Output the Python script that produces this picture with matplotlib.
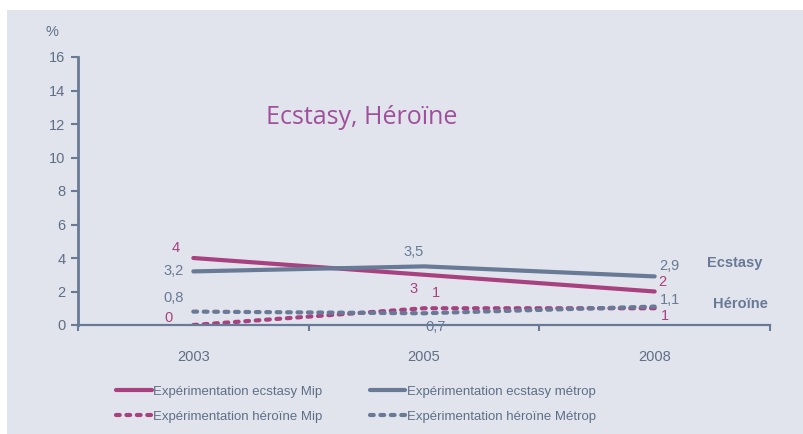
import matplotlib
matplotlib.use('Agg')
import matplotlib.pyplot as plt
from matplotlib.patches import Rectangle

years = ['2003', '2005', '2008']
ecstasy_mip = [4, 3, 2]
ecstasy_metrop = [3.2, 3.5, 2.9]
heroine_mip = [0, 1, 1]
heroine_metrop = [0.8, 0.7, 1.1]

# text shown next to each point, and where it goes (pixels from the point)
labels_ecs_mip = ['4', '3', '2']
labels_ecs_met = ['3,2', '3,5', '2,9']
labels_her_mip = ['0', '1', '1']
labels_her_met = ['0,8', '0,7', '1,1']
off_ecs_mip = [(-18, 10), (-10, -14), (8, 9)]
off_ecs_met = [(-20, 0), (-10, 14), (15, 10)]
off_her_mip = [(-25, 7), (12, 15), (10, -8)]
off_her_met = [(-20, 14), (12, -14), (15, 7)]

pink = '#a8417f'
grey = '#687a95'
txt = '#5f6f87'
bg = '#e1e4ec'

plt.rcParams['font.family'] = ['Liberation Sans', 'DejaVu Sans']

fig = plt.figure(figsize=(8.04, 4.34), dpi=100, facecolor='white')
fig.patches.append(Rectangle((7 / 804, 0), 1, 424 / 434, transform=fig.transFigure,
                             facecolor=bg, edgecolor='none', zorder=-10))
ax = fig.add_axes([78 / 804, 1 - 325 / 434, 692 / 804, 268 / 434])
ax.set_facecolor('none')

dash = (0, (0.9, 1.6))
x = range(len(years))
l1, = ax.plot(x, ecstasy_mip, color=pink, lw=3, solid_capstyle='round',
              label='Expérimentation ecstasy Mip')
l2, = ax.plot(x, ecstasy_metrop, color=grey, lw=3, solid_capstyle='round',
              label='Expérimentation ecstasy métrop')
l3, = ax.plot(x, heroine_mip, color=pink, lw=3, ls=dash, dash_capstyle='round',
              label='Expérimentation héroïne Mip')
l4, = ax.plot(x, heroine_metrop, color=grey, lw=3, ls=dash, dash_capstyle='round',
              label='Expérimentation héroïne Métrop')

for vals, labs, offs, col in [(ecstasy_mip, labels_ecs_mip, off_ecs_mip, pink),
                              (ecstasy_metrop, labels_ecs_met, off_ecs_met, grey),
                              (heroine_mip, labels_her_mip, off_her_mip, pink),
                              (heroine_metrop, labels_her_met, off_her_met, grey)]:
    for i, (v, s, o) in enumerate(zip(vals, labs, offs)):
        ax.annotate(s, (i, v), xytext=o, textcoords='offset pixels', color=col,
                    fontsize=10.5, ha='center', va='center')

ax.set_xlim(-0.5, 2.5)
ax.set_ylim(0, 16)
ax.set_yticks(range(0, 17, 2))
ax.set_xticks(list(x))
ax.set_xticklabels(years)
ax.set_xticks([-0.5, 0.5, 1.5, 2.5], minor=True)
ax.tick_params(axis='x', which='major', length=0, pad=18, labelsize=10.5, labelcolor=txt)
ax.tick_params(axis='x', which='minor', length=4, width=1.5, color=grey, direction='out')
ax.tick_params(axis='y', length=5, width=1.5, color=grey, labelsize=10.5, labelcolor=txt, pad=4)
for s in ['top', 'right']:
    ax.spines[s].set_visible(False)
ax.spines['left'].set_color(grey)
ax.spines['left'].set_linewidth(2)
ax.spines['bottom'].set_color(grey)
ax.spines['bottom'].set_linewidth(1.6)

fig.text(52 / 804, 1 - 32 / 434, '%', color=txt, fontsize=10.5, ha='center', va='center')
fig.text(362 / 804, 1 - 117 / 434, 'Ecstasy, Héroïne', color='#a0509a', fontsize=18,
         family=['Open Sans', 'DejaVu Sans'], ha='center', va='center')
fig.text(735 / 804, 1 - 263 / 434, 'Ecstasy', color=grey, fontsize=10.5, fontweight='bold',
         ha='center', va='center')
fig.text(740 / 804, 1 - 304 / 434, 'Héroïne', color=grey, fontsize=10.5, fontweight='bold',
         ha='center', va='center')

fig.legend(handles=[l1, l3, l2, l4], ncol=2, frameon=False, fontsize=9.5,
           labelcolor=txt, loc='center left', bbox_to_anchor=(104 / 804, 1 - 404 / 434),
           handlelength=2.7, handletextpad=0.1, columnspacing=3.6, labelspacing=0.95)

fig.savefig('out.png', dpi=100, facecolor=fig.get_facecolor())
